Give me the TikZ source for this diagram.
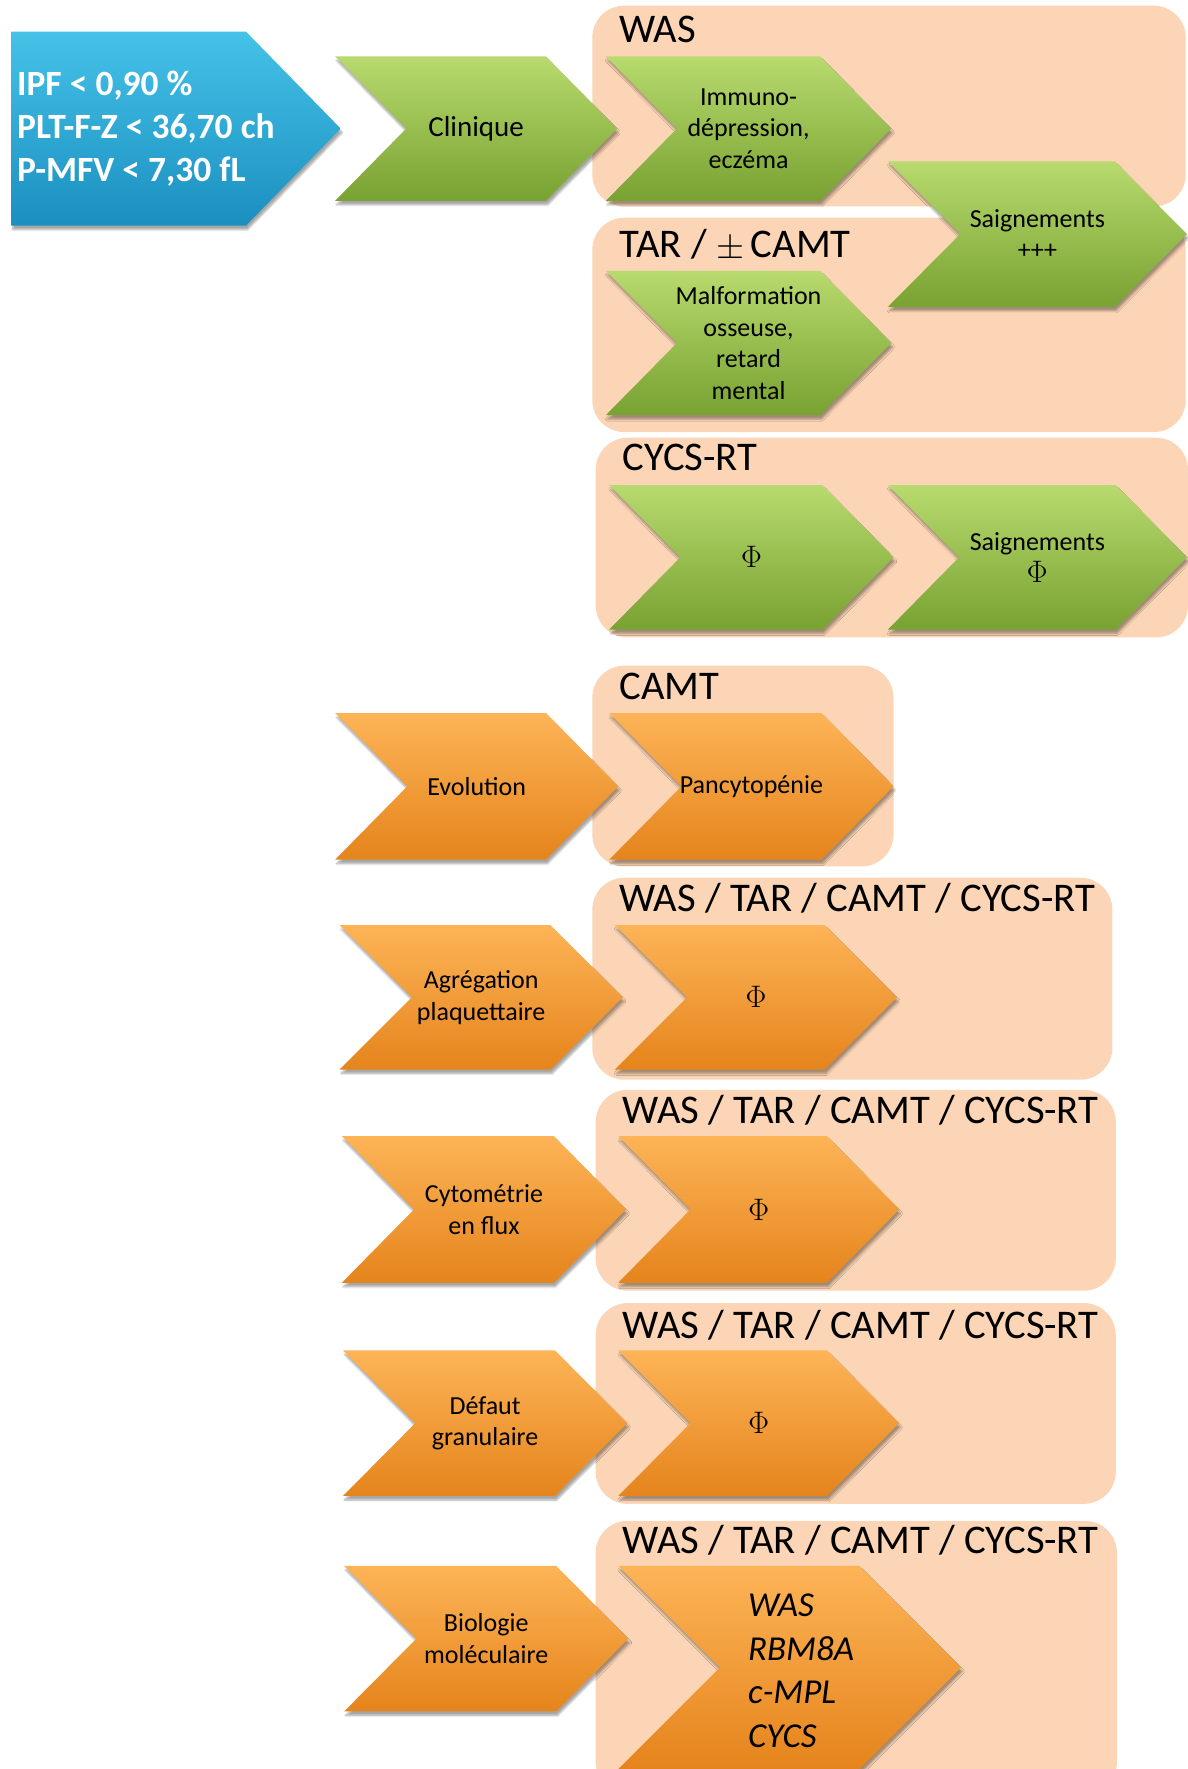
\documentclass[tikz,border=0pt]{standalone}
\usepackage{fontspec}
\usepackage{graphicx}
\setmainfont{Carlito}
\usetikzlibrary{shadows.blur}
\definecolor{peach}{HTML}{FBD5B5}
\definecolor{grnT}{HTML}{B8DA6E}
\definecolor{grnB}{HTML}{78A232}
\definecolor{orgT}{HTML}{FDB457}
\definecolor{orgB}{HTML}{E5841C}
\definecolor{bluT}{HTML}{45C2E8}
\definecolor{bluB}{HTML}{1B8FC0}
\tikzset{
  grp/.style={fill=peach, rounded corners=32pt},
  shad/.style={blur shadow={shadow xshift=1.5pt, shadow yshift=-4pt, shadow opacity=35, shadow blur steps=6}},
  grn/.style={top color=grnT, bottom color=grnB, shad},
  org/.style={top color=orgT, bottom color=orgB, shad},
  blu/.style={top color=bluT, bottom color=bluB, shad},
  txt/.style={align=center, inner sep=0pt, text=black, font=\fontsize{26}{31.6}\selectfont},
  grplabel/.style={anchor=base west, inner sep=0pt, text=black, font=\fontsize{40.7}{48}\selectfont},
}
\newcommand{\phisym}{\scalebox{1.25}{$\Phi$}}
% #1 name, #2 style, #3 L, #4 T, #5 R, #6 B, #7 depth, #8 text
\newcommand{\chev}[8]{%
  \path[#2] (#3,#4) -- ({#5-#7},#4) -- (#5,{(#4+#6)/2}) -- ({#5-#7},#6) -- (#3,#6) -- ({#3+#7},{(#4+#6)/2}) -- cycle;
  \node[txt] (#1) at ({(#3+#5)/2},{(#4+#6)/2}) {#8};
}
\begin{document}
\begin{tikzpicture}[x=1.12821pt,y=-1.12821pt]
\useasboundingbox (0,0) rectangle (1053,1568);

% group boxes
\path[grp] (525,5) rectangle (1051,183);
\path[grp] (525,193) rectangle (1051,383);
\path[grp] (528,388) rectangle (1053,565);
\path[grp] (525,590) rectangle (792,768);
\path[grp] (525,778) rectangle (986,957);
\path[grp] (528,966) rectangle (989,1144);
\path[grp] (528,1155) rectangle (989,1333);
\path[grp] (528,1348) rectangle (990,1590);

\node[grplabel] (lwas) at (549,38) {WAS};
\node[grplabel] (ltar) at (549,228) {TAR / \raisebox{-0.02em}{\scalebox{1.45}{$\pm$}}\,CAMT};
\node[grplabel] (lcycs) at (552,417) {CYCS-RT};
\node[grplabel] (lcamt) at (549,620) {CAMT};
\node[grplabel] (lall1) at (549,808) {WAS / TAR / CAMT / CYCS-RT};
\node[grplabel] (lall2) at (552,996) {WAS / TAR / CAMT / CYCS-RT};
\node[grplabel] (lall3) at (552,1186) {WAS / TAR / CAMT / CYCS-RT};
\node[grplabel] (lall4) at (552,1377) {WAS / TAR / CAMT / CYCS-RT};

% blue pentagon
\path[blu] (10,28) -- (218,28) -- (302,114) -- (218,200) -- (10,200) -- cycle;
\node[anchor=west, align=left, inner sep=0pt, text=white, font=\bfseries\fontsize{35.5}{43.4}\selectfont] (crit) at (15,114)
  {IPF < 0,90 \%\\PLT-F-Z < 36,70 ch\\P-MFV < 7,30 fL};

% green chevrons
\chev{clin}{grn}{297}{50}{547}{178}{63}{\fontsize{29}{33}\selectfont Clinique}
\chev{immu}{grn}{537}{50}{790}{178}{63}{Immuno-\\dépression,\\eczéma}
\chev{malf}{grn}{537}{240}{790}{368}{63}{Malformation\\osseuse,\\retard\\mental}
\chev{saig}{grn}{787}{143}{1052}{272}{64}{Saignements\\+++}
\chev{phic}{grn}{540}{430}{792}{558}{63}{\phisym}
\chev{saigphi}{grn}{787}{430}{1052}{558}{63}{Saignements\\\phisym}

% orange chevrons
\chev{evol}{org}{297}{632}{548}{762}{64}{Evolution}
\chev{panc}{org}{540}{632}{792}{762}{64}{Pancytopénie}
\chev{aggr}{org}{301}{820}{552}{948}{64}{Agrégation\\plaquettaire}
\chev{phia}{org}{545}{820}{795}{948}{64}{\phisym}
\chev{cyto}{org}{303}{1007}{555}{1137}{64}{Cytométrie\\en flux}
\chev{phib}{org}{548}{1007}{797}{1137}{64}{\phisym}
\chev{defa}{org}{304}{1197}{556}{1326}{64}{Défaut\\granulaire}
\chev{phid}{org}{548}{1197}{797}{1326}{64}{\phisym}
\chev{biol}{org}{305}{1388}{557}{1517}{64}{Biologie\\moléculaire}
\path[org] (548,1388) -- (762,1388) -- (852,1478) -- (762,1568) -- (548,1568) -- (638,1478) -- cycle;
\node[anchor=west, align=left, inner sep=0pt, text=black, font=\itshape\fontsize{35}{43.4}\selectfont] (genes) at (663,1481)
  {WAS\\RBM8A\\c-MPL\\CYCS};
\end{tikzpicture}
\end{document}
